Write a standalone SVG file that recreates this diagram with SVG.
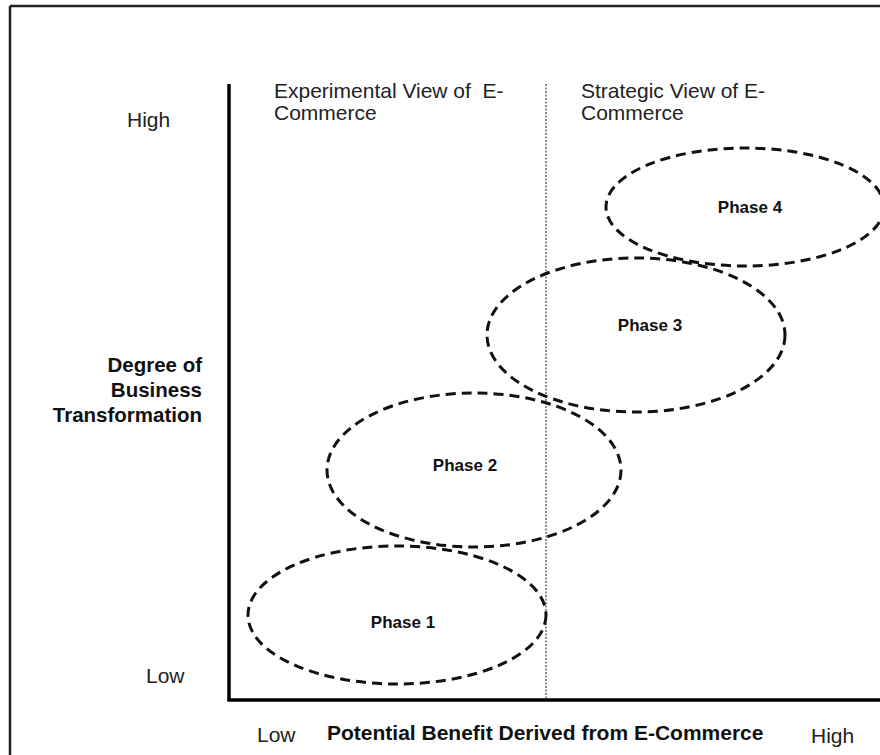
<svg xmlns="http://www.w3.org/2000/svg" width="880" height="755" viewBox="0 0 880 755">
<style>
.t{font-family:"Liberation Sans",Arial,sans-serif;font-size:21px;fill:#222;white-space:pre}
.b{font-family:"Liberation Sans",Arial,sans-serif;font-size:20.5px;font-weight:bold;fill:#111}
.p{font-family:"Liberation Sans",Arial,sans-serif;font-size:17px;font-weight:bold;fill:#111;text-anchor:middle}
.e{fill:none;stroke:#111;stroke-width:3;stroke-dasharray:10 6}
</style>
<rect width="880" height="755" fill="#fff"/>
<g id="frame" stroke="#222" stroke-width="2.5" fill="none">
<line x1="10" y1="6" x2="880" y2="6"/>
<line x1="10" y1="6" x2="10" y2="755"/>
</g>
<g id="connectors">
<line x1="229" y1="84" x2="229" y2="701" stroke="#000" stroke-width="3.5"/>
<line x1="227.5" y1="700" x2="880" y2="700" stroke="#000" stroke-width="3.5"/>
<line x1="546" y1="84" x2="546" y2="700" stroke="#444" stroke-width="1.2" stroke-dasharray="2 1.5"/>
</g>
<g id="labels">
<text class="t" x="274" y="98" xml:space="preserve">Experimental View of  E-</text>
<text class="t" x="274" y="120">Commerce</text>
<text class="t" x="581" y="98">Strategic View of E-</text>
<text class="t" x="581" y="120">Commerce</text>
<text class="t" x="127" y="127">High</text>
<text class="t" x="146" y="683">Low</text>
<text class="b" x="202" y="372" text-anchor="end">Degree of</text>
<text class="b" x="202" y="397" text-anchor="end">Business</text>
<text class="b" x="202" y="422" text-anchor="end">Transformation</text>
<text class="t" x="257" y="742">Low</text>
<text class="b" x="327" y="740" style="font-size:21px">Potential Benefit Derived from E-Commerce</text>
<text class="t" x="811" y="743">High</text>
</g>
<g id="phase4"><ellipse class="e" cx="745" cy="207" rx="139" ry="59"/><text class="p" x="750" y="213">Phase 4</text></g>
<g id="phase3"><ellipse class="e" cx="636" cy="335" rx="149" ry="77"/><text class="p" x="650" y="331">Phase 3</text></g>
<g id="phase2"><ellipse class="e" cx="474" cy="470" rx="147" ry="77"/><text class="p" x="465" y="471">Phase 2</text></g>
<g id="phase1"><ellipse class="e" cx="397" cy="615" rx="149" ry="69"/><text class="p" x="403" y="628">Phase 1</text></g>
</svg>
